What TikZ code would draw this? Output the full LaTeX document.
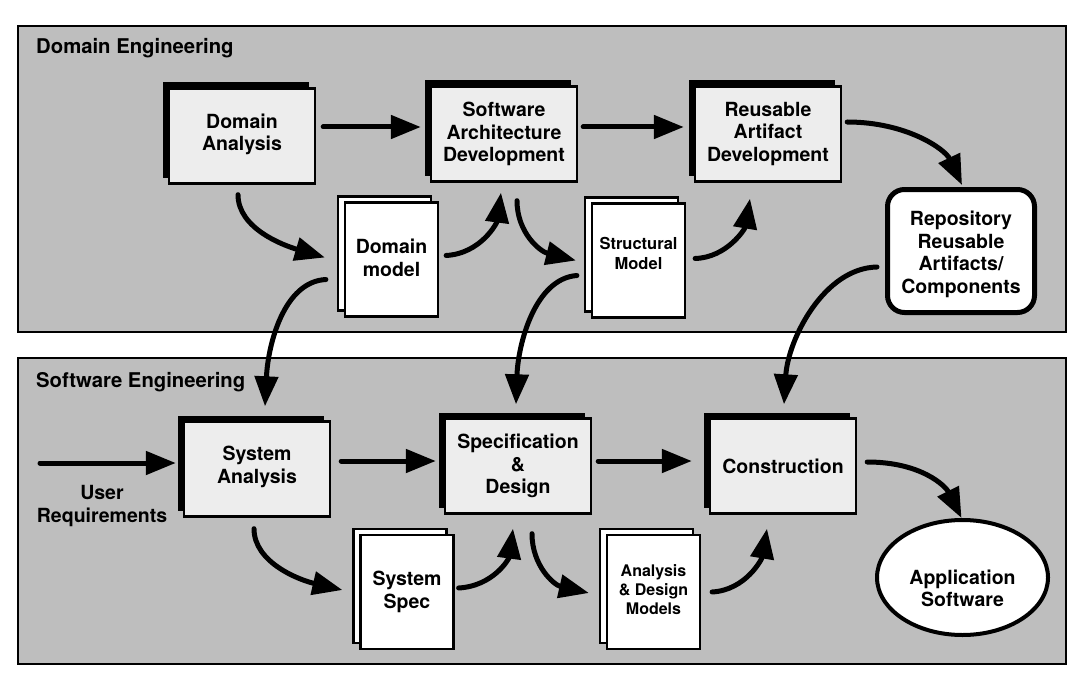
\documentclass[tikz,border=0pt]{standalone}
\usepackage{fontspec}
\setmainfont{TeX Gyre Heros}
\usetikzlibrary{arrows.meta,shadows,calc,shapes.geometric}
\begin{document}
\begin{tikzpicture}[x=1pt,y=-1pt,
  panel/.style={draw=black,line width=1.5pt,fill=panelgray},
  seclabel/.style={anchor=west,inner sep=0pt,font=\bfseries\fontsize{20.3}{22}\selectfont},
  procbox/.style={draw=black,line width=2.4pt,fill=boxgray,minimum width=146pt,minimum height=95pt,inner sep=0pt,align=center,
     font=\bfseries\fontsize{19.5}{22.5}\selectfont,
     drop shadow={shadow xshift=-6pt,shadow yshift=6pt,fill=black,opacity=1}},
  docbox/.style={draw=black,line width=2.2pt,fill=white,minimum width=93pt,minimum height=114pt,inner sep=0pt,align=center,
     font=\bfseries\fontsize{19.5}{22.5}\selectfont,
     copy shadow={shadow xshift=-7pt,shadow yshift=6pt,fill=white,draw=black,line width=2.2pt}},
  smallfont/.style={font=\bfseries\fontsize{16.5}{19.5}\selectfont},
  repo/.style={draw=black,line width=5pt,fill=white,rounded corners=17pt,minimum width=147pt,minimum height=123pt,inner sep=0pt,align=center,
     font=\bfseries\fontsize{19.5}{22.7}\selectfont},
  appl/.style={ellipse,draw=black,line width=4pt,fill=white,minimum width=171pt,minimum height=115pt,inner sep=0pt,align=center,
     font=\bfseries\fontsize{19.5}{22.5}\selectfont},
  plain/.style={align=center,inner sep=0pt,font=\bfseries\fontsize{19.5}{22.5}\selectfont},
  arr/.style={line width=5pt,line cap=round,-{Triangle[length=30pt,width=23pt]}}
]
\definecolor{panelgray}{gray}{0.745}
\definecolor{boxgray}{gray}{0.93}
\useasboundingbox (0,0) rectangle (1092,690);
\fill[white] (0,0) rectangle (1092,690);

% panels
\draw[panel] (18,26) rectangle (1066,332);
\draw[panel] (18,358) rectangle (1066,664);
\node[seclabel] (lde) at (36,48) {Domain Engineering};
\node[seclabel] (lse) at (36,382) {Software Engineering};

% process boxes
\node[procbox] (da)  at (242,136) {Domain\\Analysis\\[-14.5pt]\mbox{}};
\node[procbox] (sad) at (504,134) {Software\\Architecture\\Development};
\node[procbox] (rad) at (768,134) {Reusable\\Artifact\\Development};
\node[procbox] (sa)  at (257,469) {System\\Analysis\\[-14.5pt]\mbox{}};
\node[procbox] (spec) at (518,466) {Specification\\\&\\Design};
\node[procbox] (cons) at (783,466) {Construction};

% documents
\node[docbox] (dm)  at (391.5,259.5) {Domain\\model\\[-18.5pt]\mbox{}};
\node[docbox,smallfont] (sm) at (638.5,260.5) {Structural\\Model\\[-5.5pt]\mbox{}};
\node[docbox] (ss)  at (407,592) {System\\Spec};
\node[docbox,font=\bfseries\fontsize{16}{19}\selectfont] (adm) at (653.5,592) {Analysis\\\& Design\\Models\\[-15pt]\mbox{}};

% repository and application
\node[repo] (rep) at (961,251) {\rule{0pt}{21pt}Repository\\Reusable\\Artifacts/\\Components};
\node[appl] (app) at (962.5,577.5) {\rule{0pt}{36pt}Application\\Software};

% user requirements
\coordinate (ur0) at (40,463);
\node[plain] (ur) at (102,506) {User\\Requirements};

% straight arrows
\draw[arr] ($(da.east)+(7,-9)$) -- ($(sad.west)+(-9,-7)$);
\draw[arr] ($(sad.east)+(5,-7)$) -- ($(rad.west)+(-10,-7)$);
\draw[arr] (ur0) -- ($(sa.west)+(-7,-6)$);
\draw[arr] ($(sa.east)+(10,-8)$) -- ($(spec.west)+(-8,-5)$);
\draw[arr] ($(spec.east)+(6,-5)$) -- ($(cons.west)+(-17,-5)$);

% curved arrows, top
\draw[arr] ($(rad.east)+(5,-12)$) .. controls +(59,0) and +(-17,-36) .. ($(rep.north)+(1,-2)$);
\draw[arr] ($(da.south)+(-4,10)$) .. controls +(0,34) and +(-41,-12) .. ($(dm.west)+(-19,-2)$);
\draw[arr] ($(dm.east)+(7,-4)$) .. controls +(35,-2) and +(-4,30) .. ($(sad.south)+(-3,10)$);
\draw[arr] ($(sad.south)+(13,18)$) .. controls +(0,32) and +(-36,-9) .. ($(sm.west)+(-15,0)$);
\draw[arr] ($(sm.east)+(9,-2)$) .. controls +(32,-1) and +(-5,30) .. ($(rad.south)+(-18,16)$);

% curved arrows, between panels
\draw[arr] ($(dm.west)+(-18,20)$) .. controls +(-42,2) and +(3,-62) .. ($(sa.north)+(8,-14)$);
\draw[arr] ($(sm.west)+(-14,15)$) .. controls +(-42,3) and +(2,-60) .. ($(spec.north)+(-2,-13)$);
\draw[arr] ($(rep.west)+(-8,16)$) .. controls +(-53,1) and +(4,-65) .. ($(cons.north)+(1,-13)$);

% curved arrows, bottom
\draw[arr] ($(cons.east)+(10,-4)$) .. controls +(54,0) and +(-16,-32) .. ($(app.north)+(-1,0)$);
\draw[arr] ($(sa.south)+(-3,11)$) .. controls +(0,34) and +(-43,-10) .. ($(ss.west)+(-17,-2)$);
\draw[arr] ($(ss.east)+(4,-4)$) .. controls +(35,-2) and +(-4,30) .. ($(spec.south)+(-5,14)$);
\draw[arr] ($(spec.south)+(14,19)$) .. controls +(0,32) and +(-35,-8) .. ($(adm.west)+(-17,1)$);
\draw[arr] ($(adm.east)+(11,0)$) .. controls +(34,-2) and +(-5,30) .. ($(cons.south)+(-16,14)$);
\end{tikzpicture}
\end{document}
